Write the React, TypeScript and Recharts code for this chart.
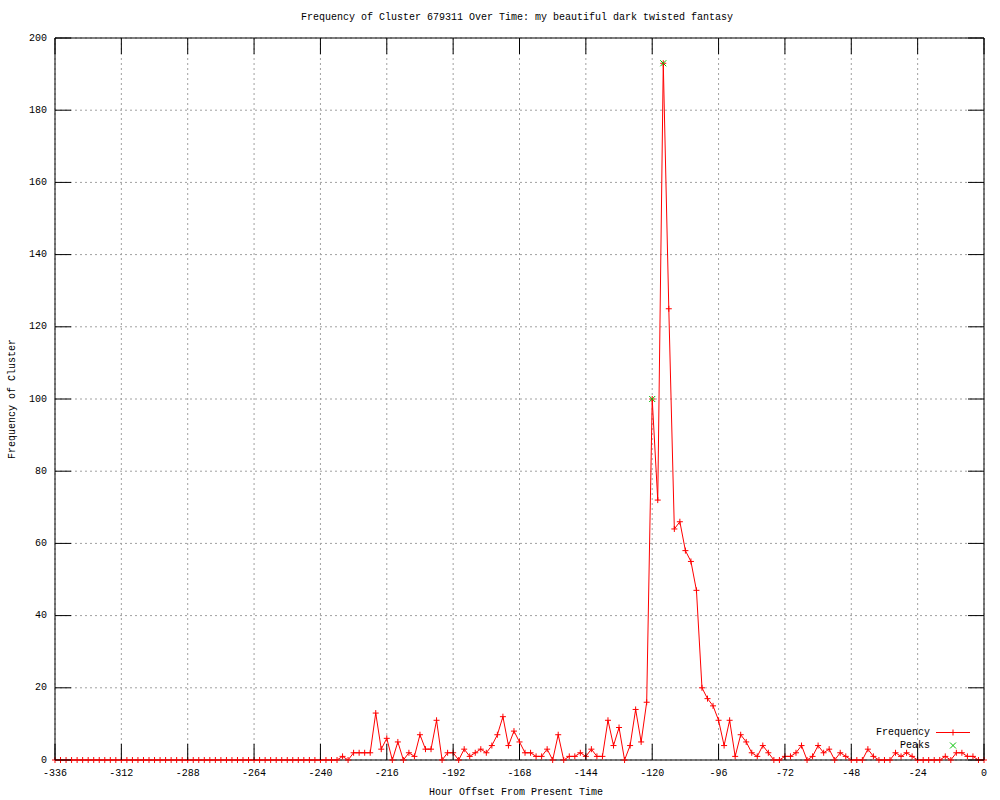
import React from 'react';
import { ComposedChart, Line, XAxis, YAxis, CartesianGrid, ReferenceArea } from 'recharts';

// hourly offsets, one sample every 2 hours from -336 to 0
const hours: number[] = [];
for (let h = -336; h <= 0; h += 2) hours.push(h);

// cluster frequency per sample (-336 .. 0)
const frequency: number[] = [
  0, 0, 0, 0, 0, 0, 0, 0, 0, 0,
  0, 0, 0, 0, 0, 0, 0, 0, 0, 0,
  0, 0, 0, 0, 0, 0, 0, 0, 0, 0,
  0, 0, 0, 0, 0, 0, 0, 0, 0, 0,
  0, 0, 0, 0, 0, 0, 0, 0, 0, 0,
  0, 0,
  // -232 ..
  1, 0, 2, 2, 2, 2, 13, 3, 6, 0,
  5, 0, 2, 1, 7, 3, 3, 11, 0, 2,
  2, 0, 3, 1, 2, 3, 2, 4, 7, 12,
  4, 8, 5, 2, 2, 1, 1, 3, 0, 7,
  0, 1, 1, 2, 1, 3, 1, 1, 11, 4,
  9, 0, 4, 14, 5, 16, 100, 72, 193, 125,
  64, 66, 58, 55, 47, 20, 17, 15, 11, 4,
  11, 1, 7, 5, 2, 1, 4, 2, 0, 0,
  1, 1, 2, 4, 0, 1, 4, 2, 3, 0,
  2, 1, 0, 0, 0, 3, 1, 0, 0, 0,
  2, 1, 2, 1, 0, 0, 0, 0, 0, 1,
  0, 2, 2, 1, 1, 0, 0,
];

const peakHours: number[] = [-120, -116];
const peakValues: number[] = [100, 193];

const xTicks: number[] = [-336, -312, -288, -264, -240, -216, -192, -168, -144, -120, -96, -72, -48, -24, 0];
const yTicks: number[] = [0, 20, 40, 60, 80, 100, 120, 140, 160, 180, 200];

const data = hours.map((h, i) => {
  const p = peakHours.indexOf(h);
  return { hour: h, freq: frequency[i], peak: p >= 0 ? peakValues[p] : null };
});

const W = 1000;
const H = 800;
const PLOT_LEFT = 55;
const PLOT_RIGHT = 984;
const PLOT_TOP = 38;
const PLOT_BOTTOM = 760;
const TICK = 16;
const FONT = '"Liberation Mono", "DejaVu Sans Mono", monospace';

const PlusDot = (props: any) => {
  const { cx, cy, key } = props;
  if (cx == null || cy == null) return <g key={key} />;
  return (
    <g key={key}>
      <line x1={cx - 3} x2={cx + 3} y1={cy} y2={cy} stroke="#ff0000" strokeWidth={1} />
      <line x1={cx} x2={cx} y1={cy - 3} y2={cy + 3} stroke="#ff0000" strokeWidth={1} />
    </g>
  );
};

const CrossDot = (props: any) => {
  const { cx, cy, key, value } = props;
  if (cx == null || cy == null || value == null) return <g key={key} />;
  return (
    <g key={key}>
      <line x1={cx - 3} x2={cx + 3} y1={cy - 3} y2={cy + 3} stroke="#00c000" strokeWidth={1} />
      <line x1={cx - 3} x2={cx + 3} y1={cy + 3} y2={cy - 3} stroke="#00c000" strokeWidth={1} />
    </g>
  );
};

const XTick = (props: any) => {
  const { x, payload } = props;
  return (
    <g>
      <line x1={x} x2={x} y1={PLOT_BOTTOM} y2={PLOT_BOTTOM - TICK} stroke="#000" />
      <line x1={x} x2={x} y1={PLOT_TOP} y2={PLOT_TOP + TICK} stroke="#000" />
      <text x={x} y={PLOT_BOTTOM + 13} textAnchor="middle" dominantBaseline="central"
        fontFamily={FONT} fontSize={10} fill="#000">{payload.value}</text>
    </g>
  );
};

const YTick = (props: any) => {
  const { y, payload } = props;
  return (
    <g>
      <line x1={PLOT_LEFT} x2={PLOT_LEFT + TICK} y1={y} y2={y} stroke="#000" />
      <line x1={PLOT_RIGHT} x2={PLOT_RIGHT - TICK} y1={y} y2={y} stroke="#000" />
      <text x={PLOT_LEFT - 8} y={y} textAnchor="end" dominantBaseline="central"
        fontFamily={FONT} fontSize={10} fill="#000">{payload.value}</text>
    </g>
  );
};

const KeyBox = () => (
  <div style={{ position: 'absolute', left: 830, top: 726, width: 140,
    fontFamily: FONT, fontSize: 10, color: '#000', lineHeight: '13px' }}>
    <div style={{ display: 'flex', alignItems: 'center', justifyContent: 'flex-end', height: 13 }}>
      <span>Frequency</span>
      <svg width={40} height={13}>
        <line x1={6} x2={40} y1={6.5} y2={6.5} stroke="#ff0000" />
        <line x1={23} x2={23} y1={3.5} y2={9.5} stroke="#ff0000" />
      </svg>
    </div>
    <div style={{ display: 'flex', alignItems: 'center', justifyContent: 'flex-end', height: 13 }}>
      <span>Peaks</span>
      <svg width={40} height={13}>
        <line x1={20} x2={26} y1={3.5} y2={9.5} stroke="#00c000" />
        <line x1={20} x2={26} y1={9.5} y2={3.5} stroke="#00c000" />
      </svg>
    </div>
  </div>
);

export default function App() {
  return (
    <div style={{ position: 'absolute', left: 0, top: 0, width: W, height: H, background: '#fff' }}>
      <div style={{ position: 'absolute', left: 0, top: 12, width: 1034, textAlign: 'center',
        fontFamily: FONT, fontSize: 10, lineHeight: '12px' }}>
        Frequency of Cluster 679311 Over Time: my beautiful dark twisted fantasy
      </div>
      <ComposedChart width={W} height={H} data={data}
        margin={{ top: PLOT_TOP, right: W - PLOT_RIGHT, bottom: 0, left: 0 }}>
        <CartesianGrid stroke="#a0a0a0" strokeDasharray="2 3" />
        <XAxis dataKey="hour" type="number" domain={[-336, 0]} ticks={xTicks}
          height={H - PLOT_BOTTOM} tickLine={false} axisLine={false} tick={<XTick />} interval={0} />
        <YAxis type="number" domain={[0, 200]} ticks={yTicks} width={PLOT_LEFT}
          tickLine={false} axisLine={false} tick={<YTick />} interval={0} />
        <ReferenceArea x1={-336} x2={0} y1={0} y2={200} fill="none" stroke="#000" strokeOpacity={1} />
        <Line type="linear" dataKey="freq" stroke="#ff0000" strokeWidth={1}
          dot={(p: any) => <PlusDot {...p} />} activeDot={false} isAnimationActive={false} />
        <Line type="linear" dataKey="peak" stroke="none" connectNulls={false}
          dot={(p: any) => <CrossDot {...p} />} activeDot={false} isAnimationActive={false} />
      </ComposedChart>
      <KeyBox />
      <div style={{ position: 'absolute', left: 0, top: 787, width: 1032, textAlign: 'center',
        fontFamily: FONT, fontSize: 10, lineHeight: '12px' }}>
        Hour Offset From Present Time
      </div>
      <div style={{ position: 'absolute', left: 13, top: 399, transform: 'translate(-50%, -50%) rotate(-90deg)',
        whiteSpace: 'nowrap', fontFamily: FONT, fontSize: 10, lineHeight: '12px' }}>
        Frequency of Cluster
      </div>
    </div>
  );
}
